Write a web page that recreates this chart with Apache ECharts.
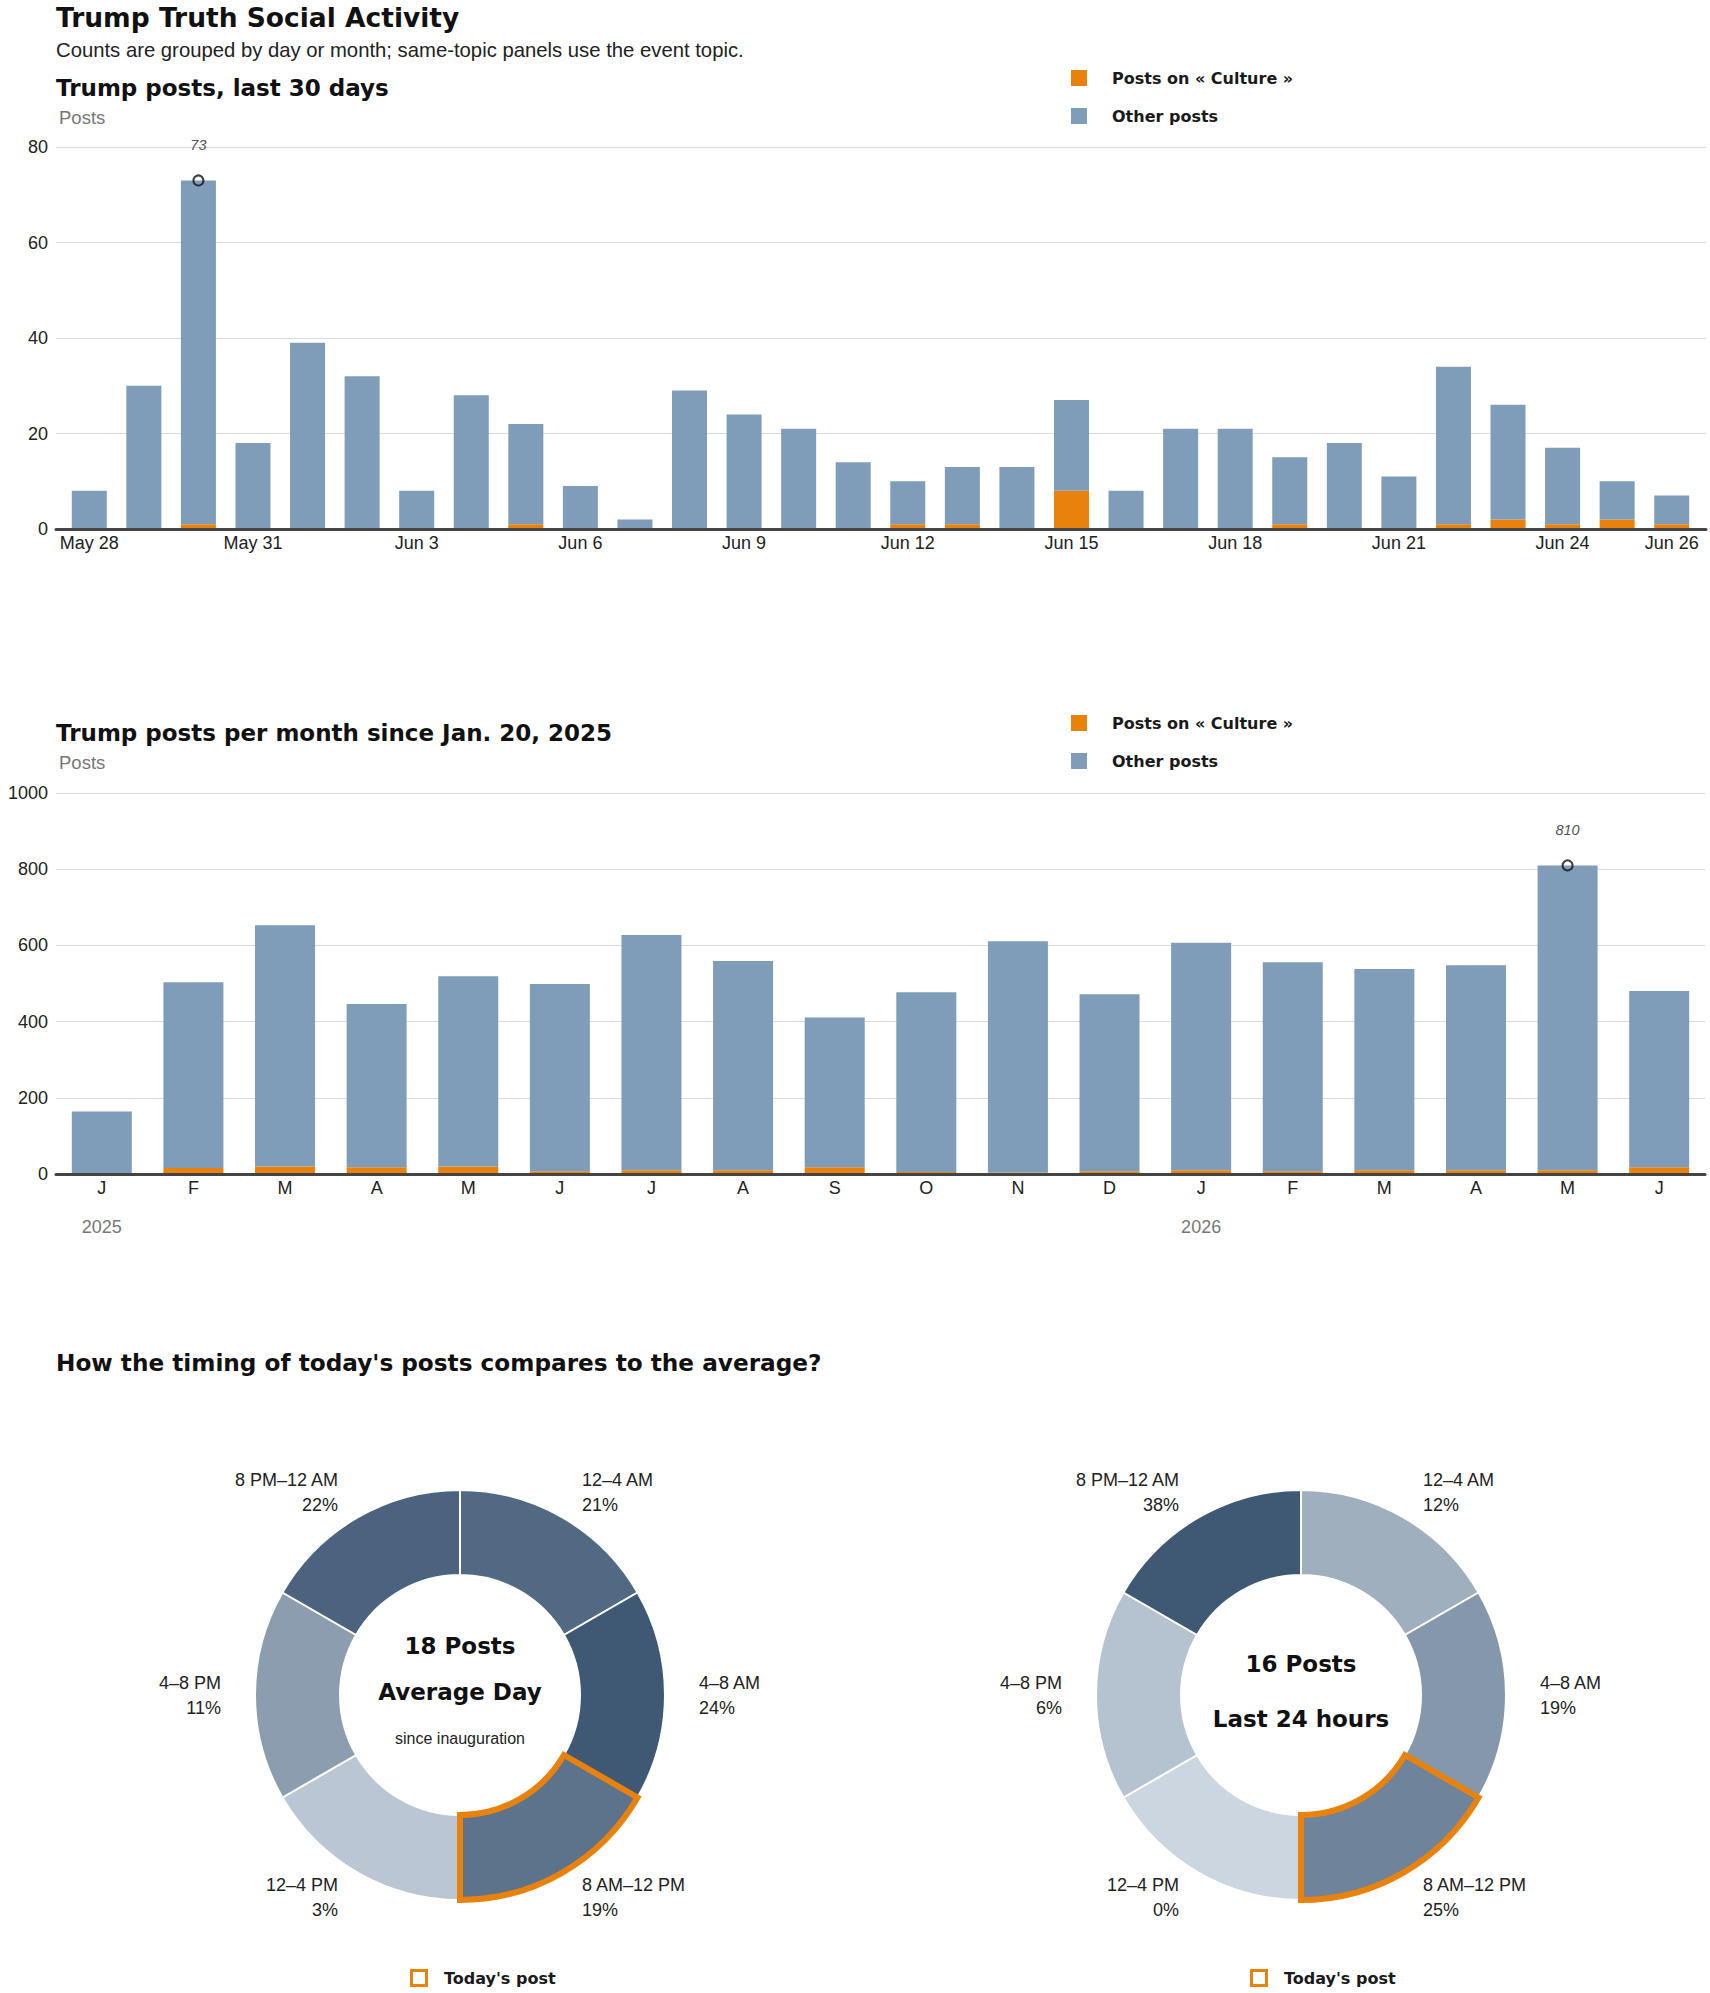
<!DOCTYPE html>
<html>
<head>
<meta charset="utf-8">
<script src="https://cdn.jsdelivr.net/npm/echarts@6/dist/echarts.min.js"></script>
<style>
html,body{margin:0;padding:0;background:#fff;}
#c{width:1710px;height:1993px;}
</style>
</head>
<body>
<div id="c"></div>
<script>
// ---------- DATA ----------
const dayLabels = ['May 28','May 29','May 30','May 31','Jun 1','Jun 2','Jun 3','Jun 4','Jun 5','Jun 6',
  'Jun 7','Jun 8','Jun 9','Jun 10','Jun 11','Jun 12','Jun 13','Jun 14','Jun 15','Jun 16',
  'Jun 17','Jun 18','Jun 19','Jun 20','Jun 21','Jun 22','Jun 23','Jun 24','Jun 25','Jun 26'];
const dayTotals  = [8,30,73,18,39,32,8,28,22,9,2,29,24,21,14,10,13,13,27,8,21,21,15,18,11,34,26,17,10,7];
const dayCulture = [0,0,1,0,0,0,0,0,1,0,0,0,0,0,0,1,1,0,8,0,0,0,1,0,0,1,2,1,2,1];
const dayTickIdx = [0,3,6,9,12,15,18,21,24,27,29];

const monthLabels  = ['J','F','M','A','M','J','J','A','S','O','N','D','J','F','M','A','M','J'];
const monthYears   = ['2025','','','','','','','','','','','','2026','','','','',''];
const monthTotals  = [164,503,653,446,519,499,627,559,411,477,611,472,607,556,538,548,810,480];
const monthCulture = [0,16,20,18,20,7,10,10,18,5,4,7,10,7,10,10,10,18];

const slotLabels = ['12–4 AM','4–8 AM','8 AM–12 PM','12–4 PM','4–8 PM','8 PM–12 AM'];
const slotHours  = [4,4,4,4,4,4];
const avgPct     = [21,24,19,3,11,22];
const todayPct   = [12,19,25,0,6,38];
const currentSlot = '8 AM–12 PM';
const avgPostsPerDay = 18;
const last24Posts = 16;

const dayYTicks = {min:0, max:80, interval:20};
const monthYTicks = {min:0, max:1000, interval:200};

// ---------- STYLE ----------
const ORANGE = '#e8820c';
const BLUE = '#7f9cb9';
const REG = '"Liberation Sans", Arial, sans-serif';
const HEAVY = '"DejaVu Sans", sans-serif';
const CULTURE = 'Posts on « Culture »';
const OTHER = 'Other posts';

function shade(p, max){
  const lo=[203,214,224], hi=[63,89,117];
  const t = max>0 ? p/max : 0;
  const c = lo.map((v,i)=>Math.round(v+(hi[i]-v)*t));
  return 'rgb('+c.join(',')+')';
}

const dayOther = dayTotals.map((t,i)=>t-dayCulture[i]);
const monthOther = monthTotals.map((t,i)=>t-monthCulture[i]);
const dayMaxIdx = dayTotals.indexOf(Math.max(...dayTotals));
const monthMaxIdx = monthTotals.indexOf(Math.max(...monthTotals));

const axisLabelStyle = {fontFamily:REG, fontSize:18, color:'#222'};

function yAxisVisible(gi, ticks){
  return {
    gridIndex:gi, type:'value', min:ticks.min, max:ticks.max, interval:ticks.interval,
    axisLine:{show:false}, axisTick:{show:false},
    axisLabel:Object.assign({margin:8, formatter:v=>String(v)}, axisLabelStyle),
    splitLine:{lineStyle:{color:'#dadada', width:1}}
  };
}

function maxMarker(xi, yi, x, v){
  return {
    type:'scatter', xAxisIndex:xi, yAxisIndex:yi, z:5, silent:true,
    symbol:'circle', symbolSize:10,
    itemStyle:{color:'rgba(0,0,0,0)', borderColor:'#111', borderWidth:2},
    label:{show:true, position:'top', distance:22, formatter:()=>String(v),
      fontFamily:REG, fontStyle:'italic', fontSize:14.5, color:'#222'},
    data:[[x, v]]
  };
}

function legend(top){
  return {
    data:[{name:CULTURE},{name:OTHER}], orient:'vertical', left:1071, top:top,
    itemWidth:16, itemHeight:16, itemGap:22, icon:'rect', padding:0, selectedMode:false,
    textStyle:{fontFamily:HEAVY, fontWeight:'bold', fontSize:16, color:'#1a1a1a', padding:[0,0,0,20]}
  };
}

function pies(cx, pct){
  const max = Math.max(...pct);
  const base = {
    type:'pie', center:[cx,1695], radius:[120,205], startAngle:90, clockwise:true,
    avoidLabelOverlap:false, silent:true, animation:false
  };
  return [
    Object.assign({}, base, {
      label:{show:true, position:'outside', distanceToLabelLine:5,
        formatter:p=>p.name+'\n'+pct[p.dataIndex]+'%',
        fontFamily:REG, fontSize:18, lineHeight:25, color:'#222'},
      labelLine:{show:false, length:29, length2:0},
      itemStyle:{borderColor:'#fff', borderWidth:2},
      data:slotLabels.map((n,i)=>({name:n, value:slotHours[i], itemStyle:{color:shade(pct[i],max)}}))
    }),
    Object.assign({}, base, {
      z:4, label:{show:false}, labelLine:{show:false},
      data:slotLabels.map((n,i)=>({name:n, value:slotHours[i],
        itemStyle: n===currentSlot
          ? {color:'rgba(0,0,0,0)', borderColor:ORANGE, borderWidth:6, borderJoin:'miter'}
          : {color:'rgba(0,0,0,0)', borderWidth:0}}))
    })
  ];
}

function txt(x, y, text, font, fill, align){
  return {type:'text', x:x, y:y, silent:true,
    style:{text:text, font:font, fill:fill||'#111', align:align||'left', verticalAlign:'middle'}};
}
function todayKey(x){
  return [
    {type:'rect', shape:{x:x+1.5, y:1970.5, width:15, height:15}, style:{fill:'#fff', stroke:ORANGE, lineWidth:3}, silent:true},
    txt(x+34, 1978, "Today's post", 'bold 16px '+HEAVY, '#1a1a1a')
  ];
}

const option = {
  animation:false,
  backgroundColor:'#fff',
  grid:[
    {left:56, right:4, top:147, height:382},      // 0: frame of daily chart (grid lines, axis line)
    {left:56, right:5, top:793, height:381},      // 1: monthly chart
    {left:62, right:11, top:147, height:382}      // 2: daily bars
  ],
  legend:[legend(70), legend(715)],
  xAxis:[
    {gridIndex:0, type:'value', min:0, max:1, z:5,
      axisLine:{show:true, onZero:false, lineStyle:{color:'#444', width:3}},
      axisTick:{show:false}, splitLine:{show:false}, axisLabel:{show:false}},
    {gridIndex:2, type:'category', data:dayLabels,
      axisLine:{show:false}, axisTick:{show:false}, splitLine:{show:false},
      axisLabel:Object.assign({interval:(i)=>dayTickIdx.indexOf(i)>=0, margin:5}, axisLabelStyle)},
    {gridIndex:1, type:'category', data:monthLabels, z:5,
      axisLine:{onZero:false, lineStyle:{color:'#444', width:3}}, axisTick:{show:false},
      axisLabel:Object.assign({interval:0, margin:5}, axisLabelStyle)},
    {gridIndex:1, type:'category', data:monthLabels, position:'bottom', offset:38,
      axisLine:{show:false}, axisTick:{show:false},
      axisLabel:{interval:0, margin:6, formatter:(v,i)=>monthYears[i], fontFamily:REG, fontSize:18, color:'#777'}}
  ],
  yAxis:[
    yAxisVisible(0, dayYTicks),
    yAxisVisible(1, monthYTicks),
    {gridIndex:2, type:'value', min:dayYTicks.min, max:dayYTicks.max, show:false}
  ],
  series:[
    {name:CULTURE, type:'bar', stack:'d', xAxisIndex:1, yAxisIndex:2, barWidth:35, itemStyle:{color:ORANGE},
      data:dayCulture},
    {name:OTHER, type:'bar', stack:'d', xAxisIndex:1, yAxisIndex:2, barWidth:35, itemStyle:{color:BLUE},
      data:dayOther},
    maxMarker(1, 2, dayMaxIdx, dayTotals[dayMaxIdx]),
    {name:CULTURE, type:'bar', stack:'m', xAxisIndex:2, yAxisIndex:1, barWidth:60, itemStyle:{color:ORANGE},
      data:monthCulture},
    {name:OTHER, type:'bar', stack:'m', xAxisIndex:2, yAxisIndex:1, barWidth:60, itemStyle:{color:BLUE},
      data:monthOther},
    maxMarker(2, 1, monthMaxIdx, monthTotals[monthMaxIdx]),
    ...pies(460, avgPct),
    ...pies(1301, todayPct)
  ],
  graphic:{elements:[
    txt(56, 17, 'Trump Truth Social Activity', 'bold 26.5px '+HEAVY, '#111'),
    txt(56, 50, 'Counts are grouped by day or month; same-topic panels use the event topic.', '20.3px '+REG, '#222'),
    txt(56, 88, 'Trump posts, last 30 days', 'bold 23px '+HEAVY, '#111'),
    txt(59, 117, 'Posts', '18.5px '+REG, '#777'),
    txt(56, 733, 'Trump posts per month since Jan. 20, 2025', 'bold 23px '+HEAVY, '#111'),
    txt(59, 762, 'Posts', '18.5px '+REG, '#777'),
    txt(56, 1362, "How the timing of today's posts compares to the average?", 'bold 23.2px '+HEAVY, '#111'),
    txt(460, 1646, avgPostsPerDay+' Posts', 'bold 23px '+HEAVY, '#111', 'center'),
    txt(460, 1692, 'Average Day', 'bold 23px '+HEAVY, '#111', 'center'),
    txt(460, 1738, 'since inauguration', '16px '+REG, '#222', 'center'),
    txt(1301, 1664, last24Posts+' Posts', 'bold 23px '+HEAVY, '#111', 'center'),
    txt(1301, 1719, 'Last 24 hours', 'bold 23px '+HEAVY, '#111', 'center'),
    ...todayKey(410),
    ...todayKey(1250)
  ]}
};

const chart = echarts.init(document.getElementById('c'), null, {renderer:'svg', width:1710, height:1993});
chart.setOption(option);
</script>
</body>
</html>
